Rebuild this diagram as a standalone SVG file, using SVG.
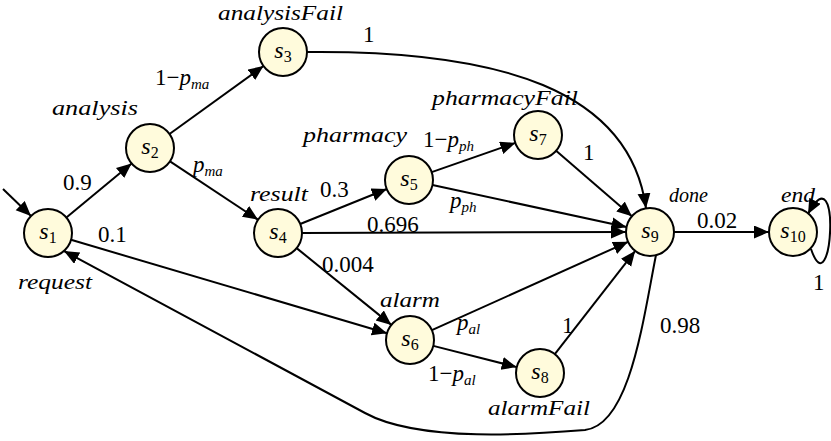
<svg xmlns="http://www.w3.org/2000/svg" width="831" height="441" viewBox="0 0 831 441">
<style>
.n circle{fill:#fffbdc;stroke:#000;stroke-width:2}
.e path{fill:none;stroke:#000;stroke-width:2;marker-end:url(#ah)}
text{font-family:"Liberation Serif","DejaVu Serif","Times New Roman",serif;fill:#000}
.it{font-style:italic;font-size:22px}
.num{font-size:23px}
.nl{font-size:24px;text-anchor:middle}
.s{font-style:italic}
.sb{font-size:16px}
.msb{font-size:15px;font-style:italic}
</style>
<defs>
<marker id="ah" markerUnits="userSpaceOnUse" markerWidth="16" markerHeight="14" refX="15" refY="6.5" orient="auto">
<path d="M0,0 L15,6.5 L0,13 z" fill="#000"/>
</marker>
</defs>
<rect width="831" height="441" fill="#fff"/>
<g id="connectors" class="e">
<path d="M3,189 L31,216"/>
<path d="M66.4,217.6 L131.6,163.4"/>
<path d="M169.5,134 L263.5,66"/>
<path d="M170,161.3 L258,219.7"/>
<path d="M307,52 C500,50 630,90 646,208.3"/>
<path d="M300.2,224 L386.8,189"/>
<path d="M302,233 L626,232"/>
<path d="M296.6,248.1 L391.4,324.9"/>
<path d="M431.7,172.1 L515.3,142.9"/>
<path d="M432.5,185.1 L626.5,226.9"/>
<path d="M556.1,150.7 L631.9,216.3"/>
<path d="M71,239.8 L387,333.2"/>
<path d="M431.9,330.2 L628.1,241.8"/>
<path d="M433.3,345.9 L516.7,367.1"/>
<path d="M554.8,354.1 L635.2,250.9"/>
<path d="M656,255 C643,320 630,425 585,430 C535,434 420,443 365,413 L64,251"/>
<path d="M674,232 L769,232"/>
<path d="M811,249 C832,310 842,150 808,214"/>
</g>
<g id="edge-labels">
<text class="num" x="63" y="190">0.9</text>
<text class="num" x="98" y="242">0.1</text>
<text class="num" x="155" y="85">1−<tspan class="s">p</tspan><tspan class="msb" dy="4">ma</tspan></text>
<text class="num" x="193" y="172"><tspan class="s">p</tspan><tspan class="msb" dy="4">ma</tspan></text>
<text class="num" x="363" y="42">1</text>
<text class="num" x="320" y="197">0.3</text>
<text class="num" x="367" y="232">0.696</text>
<text class="num" x="322" y="272">0.004</text>
<text class="num" x="423" y="147">1−<tspan class="s">p</tspan><tspan class="msb" dy="4">ph</tspan></text>
<text class="num" x="450" y="208"><tspan class="s">p</tspan><tspan class="msb" dy="4">ph</tspan></text>
<text class="num" x="583" y="160">1</text>
<text class="num" x="457" y="330"><tspan class="s">p</tspan><tspan class="msb" dy="4">al</tspan></text>
<text class="num" x="428" y="381">1−<tspan class="s">p</tspan><tspan class="msb" dy="4">al</tspan></text>
<text class="num" x="562" y="333">1</text>
<text class="num" x="660" y="333">0.98</text>
<text class="num" x="697" y="228">0.02</text>
<text class="num" x="813" y="290">1</text>
</g>
<g id="s1" class="n"><circle cx="48" cy="233" r="24"/><text class="nl" x="48" y="239"><tspan class="s">s</tspan><tspan class="sb" dy="4">1</tspan></text><text class="it" x="18" y="289" textLength="74" lengthAdjust="spacingAndGlyphs">request</text></g>
<g id="s2" class="n"><circle cx="150" cy="148" r="24"/><text class="nl" x="150" y="154"><tspan class="s">s</tspan><tspan class="sb" dy="4">2</tspan></text><text class="it" x="52" y="115" textLength="86" lengthAdjust="spacingAndGlyphs">analysis</text></g>
<g id="s3" class="n"><circle cx="283" cy="52" r="24"/><text class="nl" x="283" y="58"><tspan class="s">s</tspan><tspan class="sb" dy="4">3</tspan></text><text class="it" x="218" y="20" textLength="125" lengthAdjust="spacingAndGlyphs">analysisFail</text></g>
<g id="s4" class="n"><circle cx="278" cy="233" r="24"/><text class="nl" x="278" y="239"><tspan class="s">s</tspan><tspan class="sb" dy="4">4</tspan></text><text class="it" x="250" y="201" textLength="58" lengthAdjust="spacingAndGlyphs">result</text></g>
<g id="s5" class="n"><circle cx="409" cy="180" r="24"/><text class="nl" x="409" y="186"><tspan class="s">s</tspan><tspan class="sb" dy="4">5</tspan></text><text class="it" x="303" y="142" textLength="104" lengthAdjust="spacingAndGlyphs">pharmacy</text></g>
<g id="s6" class="n"><circle cx="410" cy="340" r="24"/><text class="nl" x="410" y="346"><tspan class="s">s</tspan><tspan class="sb" dy="4">6</tspan></text><text class="it" x="380" y="307" textLength="60" lengthAdjust="spacingAndGlyphs">alarm</text></g>
<g id="s7" class="n"><circle cx="538" cy="135" r="24"/><text class="nl" x="538" y="141"><tspan class="s">s</tspan><tspan class="sb" dy="4">7</tspan></text><text class="it" x="432" y="105" textLength="146" lengthAdjust="spacingAndGlyphs">pharmacyFail</text></g>
<g id="s8" class="n"><circle cx="540" cy="373" r="24"/><text class="nl" x="540" y="379"><tspan class="s">s</tspan><tspan class="sb" dy="4">8</tspan></text><text class="it" x="488" y="415" textLength="102" lengthAdjust="spacingAndGlyphs">alarmFail</text></g>
<g id="s9" class="n"><circle cx="650" cy="232" r="24"/><text class="nl" x="650" y="238"><tspan class="s">s</tspan><tspan class="sb" dy="4">9</tspan></text><text class="it" x="669" y="202" textLength="39" lengthAdjust="spacingAndGlyphs">done</text></g>
<g id="s10" class="n"><circle cx="793" cy="232" r="24"/><text class="nl" x="793" y="238"><tspan class="s">s</tspan><tspan class="sb" dy="4">10</tspan></text><text class="it" x="781" y="202" textLength="34" lengthAdjust="spacingAndGlyphs">end</text></g>
</svg>
